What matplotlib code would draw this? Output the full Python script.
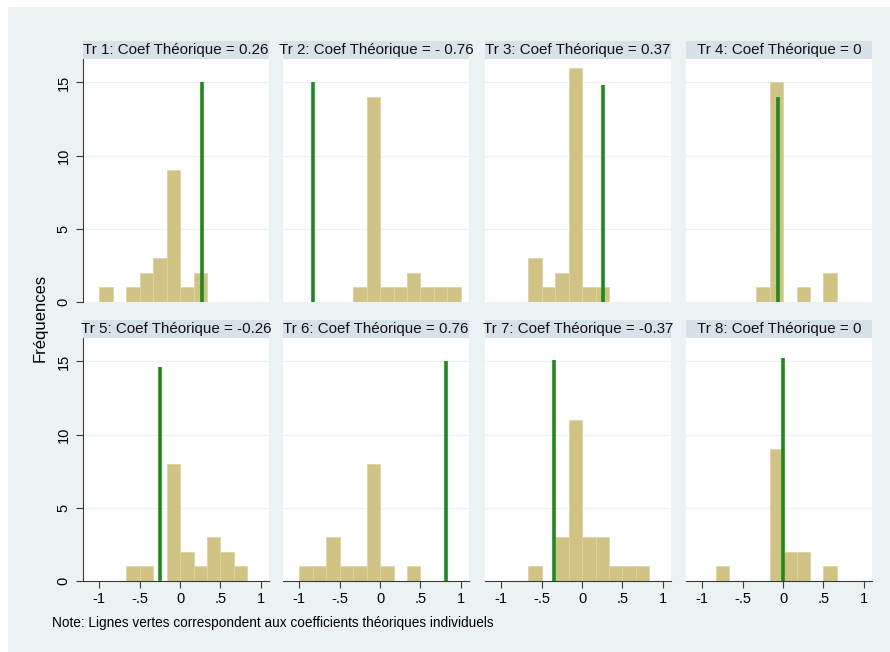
import numpy as np
import matplotlib
matplotlib.use("Agg")
import matplotlib.pyplot as plt
from matplotlib.patches import Rectangle

plt.rcParams['font.family'] = ['Liberation Sans', 'DejaVu Sans']

# ---- data ----
bin_edges = [-1, -5/6, -4/6, -3/6, -2/6, -1/6, 0, 1/6, 2/6, 3/6, 4/6, 5/6, 1]
panel_titles = ["Tr 1: Coef Théorique = 0.26", "Tr 2: Coef Théorique = - 0.76",
                "Tr 3: Coef Théorique = 0.37", "Tr 4: Coef Théorique = 0",
                "Tr 5: Coef Théorique = -0.26", "Tr 6: Coef Théorique = 0.76",
                "Tr 7: Coef Théorique = -0.37", "Tr 8: Coef Théorique = 0"]
counts_tr1 = [1, 0, 1, 2, 3, 9, 1, 2, 0, 0, 0, 0]
counts_tr2 = [0, 0, 0, 0, 1, 14, 1, 1, 2, 1, 1, 1]
counts_tr3 = [0, 0, 3, 1, 2, 16, 1, 1, 0, 0, 0, 0]
counts_tr4 = [0, 0, 0, 0, 1, 15, 0, 1, 0, 2, 0, 0]
counts_tr5 = [0, 0, 1, 1, 0, 8, 2, 1, 3, 2, 1, 0]
counts_tr6 = [1, 1, 3, 1, 1, 8, 1, 0, 1, 0, 0, 0]
counts_tr7 = [0, 0, 1, 0, 3, 11, 3, 3, 1, 1, 1, 0]
counts_tr8 = [0, 1, 0, 0, 0, 9, 2, 2, 0, 1, 0, 0]
all_counts = [counts_tr1, counts_tr2, counts_tr3, counts_tr4,
              counts_tr5, counts_tr6, counts_tr7, counts_tr8]
line_x = [0.274, -0.826, 0.253, -0.058, -0.245, 0.814, -0.344, 0.0]
line_top = [15, 15, 14.8, 14, 14.6, 15, 15.1, 15.2]
x_ticks = [-1, -0.5, 0, 0.5, 1]
x_ticklabels = ["-1", "-.5", "0", ".5", "1"]
y_ticks = [0, 5, 10, 15]
y_ticklabels = ["0", "5", "10", "15"]

# ---- style ----
W, H = 890, 652
bg = '#EAF2F3'
strip_col = '#D6E2E8'
bar_col = '#D0C383'
bar_edge = '#DDD4A6'
green = '#1E8A1E'
axis_col = '#3A3A3A'

fig = plt.figure(figsize=(W / 100, H / 100), dpi=100)
fig.patch.set_facecolor('white')
fig.patches.append(Rectangle((8 / W, 0), 1 - 8 / W, 1 - 7 / H, transform=fig.transFigure,
                             facecolor=bg, edgecolor='none', zorder=-10))

col_left = [83, 283, 485, 686]
panel_w = 186
row_top = [59, 338]
panel_h = 243
strip_h = 18

edges = np.array(bin_edges)
centers = (edges[:-1] + edges[1:]) / 2

for i in range(8):
    r, c = divmod(i, 4)
    left = col_left[c] / W
    bottom = 1 - (row_top[r] + panel_h) / H
    ax = fig.add_axes([left, bottom, panel_w / W, panel_h / H])
    ax.set_facecolor('white')
    ax.hist(centers, bins=edges, weights=all_counts[i], color=bar_col,
            edgecolor=bar_edge, linewidth=0.6, zorder=2)
    ax.vlines(line_x[i], 0, line_top[i], color=green, linewidth=2.6, zorder=3)
    ax.set_xlim(-1.2, 1.1)
    ax.set_ylim(0, 16.6)
    for g in [5, 10, 15]:
        ax.axhline(g, color=bg, linewidth=0.9, zorder=1)
    for s in ['top', 'right']:
        ax.spines[s].set_visible(False)
    ax.spines['left'].set_visible(c == 0)
    ax.spines['bottom'].set_visible(r == 1)
    for s in ['left', 'bottom']:
        ax.spines[s].set_color(axis_col)
        ax.spines[s].set_linewidth(0.8)
    if c == 0:
        ax.set_yticks(y_ticks)
        ax.set_yticklabels(y_ticklabels, rotation=90, va='center', fontsize=10.5)
        ax.tick_params(axis='y', length=5, width=0.8, color=axis_col, pad=4)
    else:
        ax.set_yticks([])
    if r == 1:
        ax.set_xticks(x_ticks)
        ax.set_xticklabels(x_ticklabels, fontsize=10.5)
        ax.tick_params(axis='x', length=5, width=0.8, color=axis_col, pad=3)
    else:
        ax.set_xticks([])
    # title strip
    ax.add_patch(Rectangle((0, 1), 1, strip_h / panel_h, transform=ax.transAxes,
                           facecolor=strip_col, edgecolor='none', clip_on=False))
    ax.text(0.5, 1 + (strip_h / 2) / panel_h, panel_titles[i], transform=ax.transAxes,
            ha='center', va='center', fontsize=10.9, color='#111111')

fig.text(40 / W, 1 - 318 / H, "Fréquences", rotation=90, ha='center', va='center',
         fontsize=12)
fig.text(52 / W, 1 - 623 / H,
         "Note: Lignes vertes correspondent aux coefficients théoriques individuels",
         ha='left', va='center', fontsize=9.8)

fig.savefig("out.png", dpi=100, facecolor=fig.get_facecolor())
